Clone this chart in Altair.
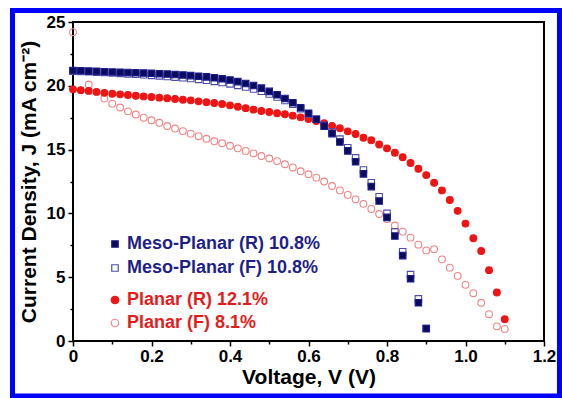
import altair as alt
import pandas as pd

# ---------------- data ----------------
v_meso = [0.00, 0.02, 0.04, 0.06, 0.08, 0.10, 0.12, 0.14, 0.16, 0.18,
          0.20, 0.22, 0.24, 0.26, 0.28, 0.30, 0.32, 0.34, 0.36, 0.38,
          0.40, 0.42, 0.44, 0.46, 0.48, 0.50, 0.52, 0.54, 0.56, 0.58,
          0.60, 0.62, 0.64, 0.66, 0.68, 0.70, 0.72, 0.74, 0.76, 0.78,
          0.80, 0.82, 0.84, 0.86, 0.88, 0.90]
j_meso_r = [21.20, 21.18, 21.15, 21.13, 21.10, 21.08, 21.06, 21.04, 21.02, 21.00,
            20.98, 20.95, 20.92, 20.89, 20.85, 20.80, 20.75, 20.70, 20.63, 20.55,
            20.45, 20.33, 20.18, 20.02, 19.82, 19.56, 19.30, 19.00, 18.67, 18.28,
            17.85, 17.38, 16.84, 16.25, 15.60, 14.90, 14.05, 13.10, 12.10, 10.97,
            9.69, 8.23, 6.69, 4.88, 3.00, 0.96]
j_meso_f = [21.15, 21.12, 21.10, 21.07, 21.04, 21.00, 20.97, 20.93, 20.90, 20.86,
            20.82, 20.78, 20.73, 20.68, 20.63, 20.57, 20.50, 20.43, 20.35, 20.26,
            20.15, 20.03, 19.90, 19.75, 19.57, 19.36, 19.12, 18.85, 18.55, 18.20,
            17.80, 17.38, 16.90, 16.40, 15.82, 15.15, 14.35, 13.40, 12.40, 11.30,
            10.00, 8.55, 7.00, 5.20, 3.30, 1.00]

v_planar_r = [0.00, 0.02, 0.04, 0.06, 0.08, 0.10, 0.12, 0.14, 0.16, 0.18,
              0.20, 0.22, 0.24, 0.26, 0.28, 0.30, 0.32, 0.34, 0.36, 0.38,
              0.40, 0.42, 0.44, 0.46, 0.48, 0.50, 0.52, 0.54, 0.56, 0.58,
              0.60, 0.62, 0.64, 0.66, 0.68, 0.70, 0.72, 0.74, 0.76, 0.78,
              0.80, 0.82, 0.84, 0.86, 0.88, 0.90, 0.92, 0.94, 0.96, 0.98,
              1.00, 1.02, 1.04, 1.06, 1.08, 1.10]
j_planar_r = [19.72, 19.66, 19.60, 19.52, 19.45, 19.38, 19.33, 19.28, 19.22, 19.17,
              19.12, 19.07, 19.02, 18.97, 18.91, 18.86, 18.78, 18.72, 18.65, 18.57,
              18.47, 18.36, 18.25, 18.13, 18.03, 17.95, 17.85, 17.77, 17.66, 17.53,
              17.40, 17.24, 17.06, 16.85, 16.67, 16.43, 16.22, 15.93, 15.73, 15.40,
              15.10, 14.75, 14.40, 13.95, 13.50, 13.00, 12.40, 11.80, 11.05, 10.20,
              9.20, 8.05, 7.05, 5.55, 3.80, 1.70]

v_planar_f = [0.00, 0.04, 0.08, 0.10, 0.12, 0.14, 0.16, 0.18,
              0.20, 0.22, 0.24, 0.26, 0.28, 0.30, 0.32, 0.34, 0.36, 0.38,
              0.40, 0.42, 0.44, 0.46, 0.48, 0.50, 0.52, 0.54, 0.56, 0.58,
              0.60, 0.62, 0.64, 0.66, 0.68, 0.70, 0.72, 0.74, 0.76, 0.78,
              0.80, 0.82, 0.84, 0.86, 0.88, 0.90, 0.92, 0.94, 0.96, 0.98,
              1.00, 1.02, 1.04, 1.06, 1.08, 1.10]
j_planar_f = [24.20, 20.10, 19.00, 18.60, 18.30, 18.00, 17.75, 17.50,
              17.30, 17.10, 16.85, 16.65, 16.45, 16.25, 16.05, 15.85, 15.65, 15.50,
              15.30, 15.10, 14.90, 14.70, 14.50, 14.30, 14.10, 13.85, 13.60, 13.30,
              13.07, 12.80, 12.50, 12.15, 11.80, 11.45, 11.10, 10.75, 10.35, 9.95,
              9.55, 9.05, 8.57, 8.10, 7.55, 7.10, 7.20, 6.40, 5.75, 5.10,
              4.40, 3.75, 3.00, 2.10, 1.15, 0.95]

meso_labels = ["Meso-Planar (R) 10.8%", "Meso-Planar (F) 10.8%"]
planar_labels = ["Planar (R) 12.1%", "Planar (F) 8.1%"]

x_ticks = [0, 0.1, 0.2, 0.3, 0.4, 0.5, 0.6, 0.7, 0.8, 0.9, 1.0, 1.1, 1.2]
y_ticks = [0, 2.5, 5, 7.5, 10, 12.5, 15, 17.5, 20, 22.5, 25]

# ---------------- tables ----------------
# forward scans first so the reverse scans are drawn on top
meso_df = pd.concat([
    pd.DataFrame({"V": v_meso, "J": j_meso_f, "series": meso_labels[1]}),
    pd.DataFrame({"V": v_meso, "J": j_meso_r, "series": meso_labels[0]}),
])
planar_df = pd.concat([
    pd.DataFrame({"V": v_planar_f, "J": j_planar_f, "series": planar_labels[1]}),
    pd.DataFrame({"V": v_planar_r, "J": j_planar_r, "series": planar_labels[0]}),
])

FONT = "Liberation Sans"
NAVY_FILL = "#0b0b5e"
NAVY_STROKE = "#1c1c8c"
NAVY_OPEN = "#4d4dab"
RED = "#ee1414"
PINK = "#f08585"
NAVY_TEXT = "#1f1f8a"
RED_TEXT = "#e61c1c"

xs = alt.Scale(domain=[0, 1.2], nice=False, zero=False)
ys = alt.Scale(domain=[0, 25], nice=False, zero=False)

X_MAJOR = "abs(round(datum.value * 10)) % 2 == 0"
Y_MAJOR = "abs(round(datum.value * 10)) % 50 == 0"

x_axis = alt.Axis(orient="bottom", values=x_ticks, title="Voltage, V (V)",
                  labelExpr="(" + X_MAJOR + ") ? (datum.value == 0 ? '0' : format(datum.value, '.1f')) : ''",
                  labelOverlap=False, labelFlush=False,
                  grid=False, domain=False,
                  tickSize={"condition": {"test": X_MAJOR, "value": 5}, "value": 3},
                  tickWidth=1.5, tickColor="black", labelFont=FONT, labelFontSize=17,
                  labelFontWeight="bold", labelColor="black", labelPadding=2,
                  titleFont=FONT, titleFontSize=21, titleFontWeight="bold",
                  titleColor="black", titlePadding=2)
y_axis = alt.Axis(orient="left", values=y_ticks, title="Current Density, J (mA cm\u207b\u00b2)",
                  labelExpr="(" + Y_MAJOR + ") ? format(datum.value, 'd') : ''",
                  labelOverlap=False, labelFlush=False,
                  grid=False, domain=False,
                  tickSize={"condition": {"test": Y_MAJOR, "value": 5}, "value": 3},
                  tickWidth=1.5, tickColor="black", labelFont=FONT, labelFontSize=17,
                  labelFontWeight="bold", labelColor="black", labelPadding=3,
                  titleFont=FONT, titleFontSize=21, titleFontWeight="bold",
                  titleColor="black", titlePadding=7)


def legend(y, color, row_pad, size):
    return alt.Legend(orient="none", legendX=33, legendY=y, title=None,
                      labelFont=FONT, labelFontSize=18, labelFontWeight="bold",
                      labelColor=color, labelOffset=3, rowPadding=row_pad,
                      symbolSize=size, symbolStrokeWidth=1.2, padding=0, labelLimit=400)


planar = alt.Chart(planar_df).mark_point(opacity=1, fillOpacity=1, strokeWidth=1.1, size=46).encode(
    x=alt.X("V:Q", scale=xs, axis=x_axis),
    y=alt.Y("J:Q", scale=ys, axis=y_axis),
    shape=alt.Shape("series:N", scale=alt.Scale(domain=planar_labels, range=["circle", "circle"]),
                    legend=legend(269, RED_TEXT, 5, 56)),
    fill=alt.Fill("series:N", scale=alt.Scale(domain=planar_labels, range=[RED, "transparent"]),
                  legend=legend(269, RED_TEXT, 5, 56)),
    stroke=alt.Stroke("series:N", scale=alt.Scale(domain=planar_labels, range=[RED, PINK]),
                      legend=legend(269, RED_TEXT, 5, 56)),
)

meso = alt.Chart(meso_df).mark_point(opacity=1, fillOpacity=1, strokeWidth=1.1, size=42).encode(
    x=alt.X("V:Q", scale=xs, axis=x_axis),
    y=alt.Y("J:Q", scale=ys, axis=y_axis),
    shape=alt.Shape("series:N", scale=alt.Scale(domain=meso_labels, range=["square", "square"]),
                    legend=legend(213, NAVY_TEXT, 6, 42)),
    fill=alt.Fill("series:N", scale=alt.Scale(domain=meso_labels, range=[NAVY_FILL, "transparent"]),
                  legend=legend(213, NAVY_TEXT, 6, 42)),
    stroke=alt.Stroke("series:N", scale=alt.Scale(domain=meso_labels, range=[NAVY_STROKE, NAVY_OPEN]),
                      legend=legend(213, NAVY_TEXT, 6, 42)),
)

border = alt.Chart(pd.DataFrame({"frame": [1]})).mark_rect(
    fillOpacity=0, stroke="#0000ff", strokeWidth=5
).encode(
    x=alt.value(-60.5), x2=alt.value(486.5), y=alt.value(-11.5), y2=alt.value(374)
)

chart = alt.layer(planar, meso, border).resolve_scale(
    shape="independent", fill="independent", stroke="independent"
).properties(
    width=471, height=319,
    autosize=alt.AutoSizeParams(type="none"),
    padding={"left": 73, "top": 22, "right": 18, "bottom": 57},
    background="white",
).configure_view(
    stroke="black", strokeWidth=2
)

chart.save("out.html", embed_options={"renderer": "svg", "actions": False})
